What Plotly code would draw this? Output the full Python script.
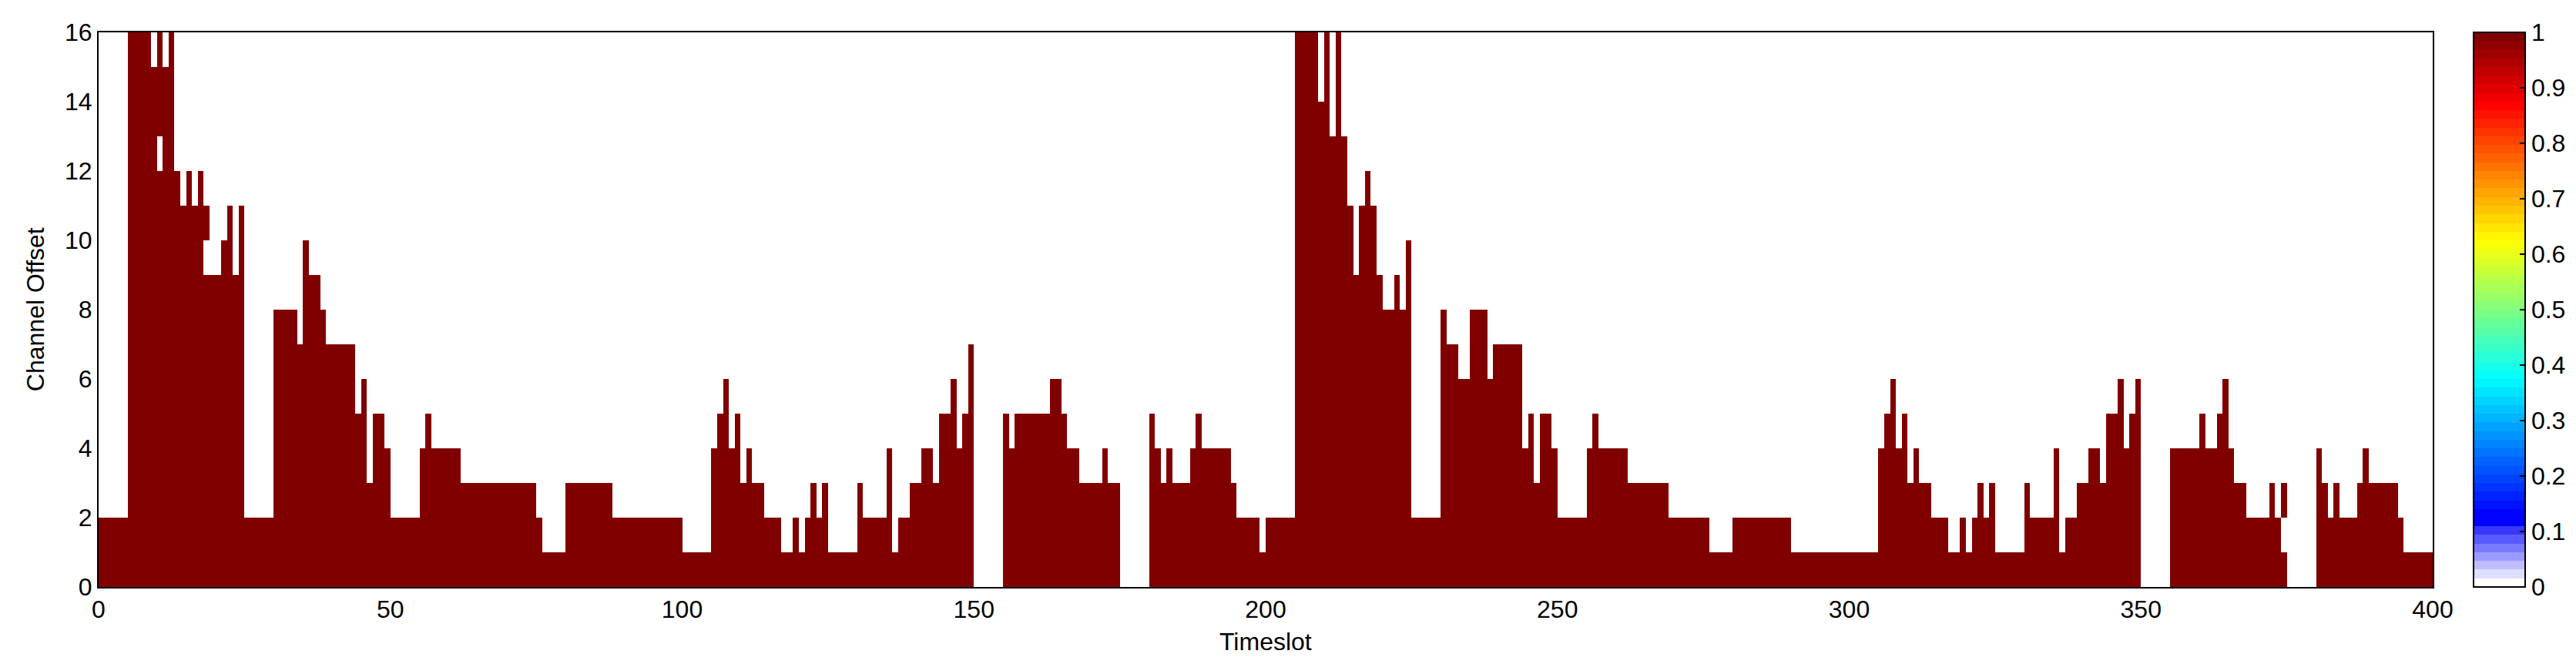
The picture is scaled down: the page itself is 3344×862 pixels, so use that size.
import plotly.graph_objects as go

# highest occupied channel offset per timeslot (cells 0 .. h-1 are filled)
heights = [
    2, 2, 2, 2, 2, 16, 16, 16, 16, 15, 16, 15, 16, 12, 11, 12, 11, 12, 11, 9, 9, 10, 11, 9, 11,
    2, 2, 2, 2, 2, 8, 8, 8, 8, 7, 10, 9, 9, 8, 7, 7, 7, 7, 7, 5, 6, 3, 5, 5, 4,
    2, 2, 2, 2, 2, 4, 5, 4, 4, 4, 4, 4, 3, 3, 3, 3, 3, 3, 3, 3, 3, 3, 3, 3, 3,
    2, 1, 1, 1, 1, 3, 3, 3, 3, 3, 3, 3, 3, 2, 2, 2, 2, 2, 2, 2, 2, 2, 2, 2, 2,
    1, 1, 1, 1, 1, 4, 5, 6, 4, 5, 3, 4, 3, 3, 2, 2, 2, 1, 1, 2, 1, 2, 3, 2, 3,
    1, 1, 1, 1, 1, 3, 2, 2, 2, 2, 4, 1, 2, 2, 3, 3, 4, 4, 3, 5, 5, 6, 4, 5, 7,
    0, 0, 0, 0, 0, 5, 4, 5, 5, 5, 5, 5, 5, 6, 6, 5, 4, 4, 3, 3, 3, 3, 4, 3, 3,
    0, 0, 0, 0, 0, 5, 4, 3, 4, 3, 3, 3, 4, 5, 4, 4, 4, 4, 4, 3, 2, 2, 2, 2, 1,
    2, 2, 2, 2, 2, 16, 16, 16, 16, 14, 16, 13, 16, 13, 11, 9, 11, 12, 11, 9, 8, 8, 9, 8, 10,
    2, 2, 2, 2, 2, 8, 7, 7, 6, 6, 8, 8, 8, 6, 7, 7, 7, 7, 7, 4, 5, 3, 5, 5, 4,
    2, 2, 2, 2, 2, 4, 5, 4, 4, 4, 4, 4, 3, 3, 3, 3, 3, 3, 3, 2, 2, 2, 2, 2, 2,
    2, 1, 1, 1, 1, 2, 2, 2, 2, 2, 2, 2, 2, 2, 2, 1, 1, 1, 1, 1, 1, 1, 1, 1, 1,
    1, 1, 1, 1, 1, 4, 5, 6, 4, 5, 3, 4, 3, 3, 2, 2, 2, 1, 1, 2, 1, 2, 3, 2, 3,
    1, 1, 1, 1, 1, 3, 2, 2, 2, 2, 4, 1, 2, 2, 3, 3, 4, 4, 3, 5, 5, 6, 4, 5, 6,
    0, 0, 0, 0, 0, 4, 4, 4, 4, 4, 5, 4, 4, 5, 6, 4, 3, 3, 2, 2, 2, 2, 3, 2, 3,
    0, 0, 0, 0, 0, 4, 3, 2, 3, 2, 2, 2, 3, 4, 3, 3, 3, 3, 3, 2, 1, 1, 1, 1, 1,
]

# empty cells inside otherwise filled columns
hole_slots = [10, 18, 374]
hole_channels = [12, 9, 1]

x_ticks = [0, 50, 100, 150, 200, 250, 300, 350, 400]
y_ticks = [0, 2, 4, 6, 8, 10, 12, 14, 16]
cbar_ticks = [0, 0.1, 0.2, 0.3, 0.4, 0.5, 0.6, 0.7, 0.8, 0.9, 1]

n_channels = 16
n_slots = len(heights)

z = [[1 if c < heights[t] else 0 for t in range(n_slots)] for c in range(n_channels)]
for t, c in zip(hole_slots, hole_channels):
    z[c][t] = 0

# jet-like map with a white-to-blue foot, stepped into 64 bands like the original
cmap_stops = [
    (0.0, (255, 255, 255)),
    (0.095, (56, 56, 255)),
    (0.105, (0, 0, 255)),
    (0.125, (0, 0, 255)),
    (0.375, (0, 255, 255)),
    (0.625, (255, 255, 0)),
    (0.875, (255, 0, 0)),
    (1.0, (128, 0, 0)),
]


def cmap_at(v):
    for (p0, c0), (p1, c1) in zip(cmap_stops[:-1], cmap_stops[1:]):
        if p0 <= v <= p1:
            f = (v - p0) / (p1 - p0)
            return tuple(round(a + (b - a) * f) for a, b in zip(c0, c1))
    return cmap_stops[-1][1]


n_bands = 64
colorscale = []
for i in range(n_bands):
    r, g, b = cmap_at(i / (n_bands - 1))
    col = f'rgb({r},{g},{b})'
    colorscale.append([i / n_bands, col])
    colorscale.append([(i + 1) / n_bands, col])

FONT = 'Liberation Sans, Arial, sans-serif'
W, H = 3344, 862
ML, MR, MT, MB = 120, 189, 34, 108
plot_w = W - ML - MR
plot_h = H - MT - MB

fig = go.Figure(go.Heatmap(
    z=z,
    x0=0.5, dx=1,
    y0=0.5, dy=1,
    zmin=0, zmax=1,
    colorscale=colorscale,
    hoverinfo='skip',
    colorbar=dict(
        x=1.0175, xanchor='left',
        y=0.5, yanchor='middle',
        len=1, lenmode='fraction',
        thickness=67, thicknessmode='pixels',
        outlinewidth=2, outlinecolor='black',
        tickvals=cbar_ticks,
        ticks='inside', ticklen=8, tickcolor='black', tickwidth=2,
        tickfont=dict(family=FONT, size=32, color='black'),
        xpad=0, ypad=0,
    ),
))

axis_common = dict(
    showline=True, linecolor='black', linewidth=2, mirror=True,
    ticks='', showgrid=False, zeroline=False, automargin=False,
    tickfont=dict(family=FONT, size=32, color='black'),
)

fig.update_layout(
    width=W, height=H,
    margin=dict(l=ML, r=MR, t=MT, b=MB),
    paper_bgcolor='white',
    plot_bgcolor='white',
    xaxis=dict(range=[0, 400], tickvals=x_ticks, **axis_common),
    yaxis=dict(range=[0, 16], tickvals=y_ticks, **axis_common),
    annotations=[
        dict(text='Timeslot', xref='paper', yref='paper',
             x=0.5, y=-(825 - (H - MB)) / plot_h, xanchor='center', yanchor='middle',
             showarrow=False, font=dict(family=FONT, size=32, color='black')),
        dict(text='Channel Offset', xref='paper', yref='paper',
             x=(38 - ML) / plot_w, y=0.5, xanchor='center', yanchor='middle',
             textangle=-90, showarrow=False,
             font=dict(family=FONT, size=32, color='black')),
    ],
)

fig.write_html("out.html")
